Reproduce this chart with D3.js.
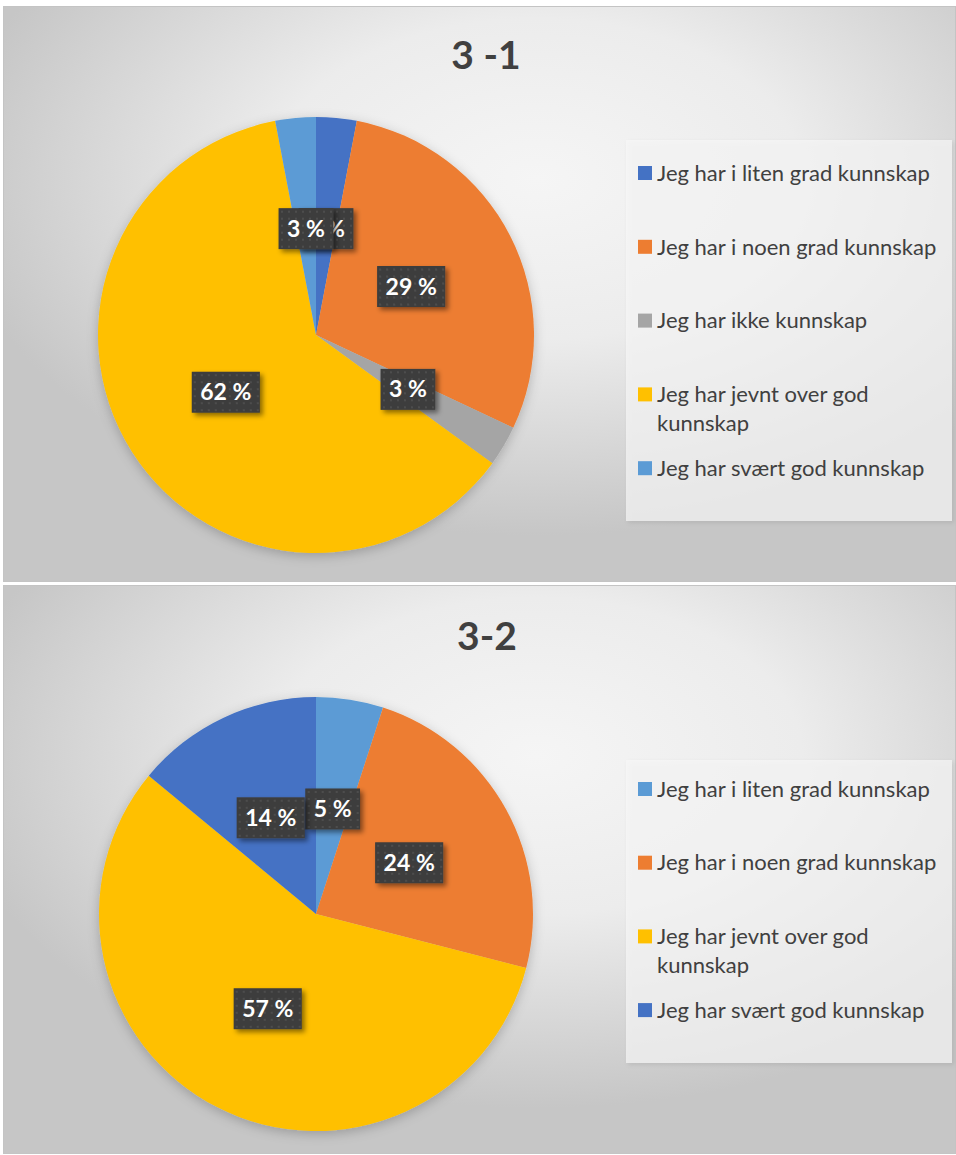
<!DOCTYPE html>
<html>
<head>
<meta charset="utf-8">
<script src="https://cdn.jsdelivr.net/npm/d3@7"></script>
<style>
  html, body { margin: 0; padding: 0; background: #ffffff; }
  svg { display: block; }
</style>
</head>
<body>
<svg id="chart" width="956" height="1155"></svg>
<script>
// Survey answers, question 3-1
const title1 = "3 -1";
const categories1 = [
  "Jeg har i liten grad kunnskap",
  "Jeg har i noen grad kunnskap",
  "Jeg har ikke kunnskap",
  "Jeg har jevnt over god kunnskap",
  "Jeg har svært god kunnskap"
];
const values1 = [3, 29, 3, 62, 3];
const colors1 = ["#4472C4", "#ED7D31", "#A5A5A5", "#FFC000", "#5B9BD5"];

// Survey answers, question 3-2
const title2 = "3-2";
const categories2 = [
  "Jeg har i liten grad kunnskap",
  "Jeg har i noen grad kunnskap",
  "Jeg har jevnt over god kunnskap",
  "Jeg har svært god kunnskap"
];
const values2 = [5, 24, 57, 14];
const colors2 = ["#5B9BD5", "#ED7D31", "#FFC000", "#4472C4"];

const svg = d3.select("#chart");
const defs = svg.append("defs");

// panel background: soft radial light
const bg = defs.append("radialGradient").attr("id", "panelBg")
  .attr("cx", "0.56").attr("cy", "0.3").attr("r", "0.62");
bg.append("stop").attr("offset", "0").attr("stop-color", "#f5f5f5");
bg.append("stop").attr("offset", "0.45").attr("stop-color", "#ececec");
bg.append("stop").attr("offset", "1").attr("stop-color", "#c6c6c6");

// dotted dark fill for data labels
const pat = defs.append("pattern").attr("id", "dots")
  .attr("patternUnits", "userSpaceOnUse").attr("width", 7).attr("height", 7);
pat.append("rect").attr("width", 7).attr("height", 7).attr("fill", "#3d3d3d");
pat.append("rect").attr("x", 3).attr("y", 3).attr("width", 2).attr("height", 2).attr("fill", "#4e4e4e");

const lblShadow = defs.append("filter").attr("id", "lblShadow")
  .attr("x", "-30%").attr("y", "-30%").attr("width", "160%").attr("height", "160%");
lblShadow.append("feDropShadow").attr("dx", 3).attr("dy", 3).attr("stdDeviation", 2.5)
  .attr("flood-color", "#000").attr("flood-opacity", 0.45);

const pieShadow = defs.append("filter").attr("id", "pieShadow")
  .attr("x", "-20%").attr("y", "-20%").attr("width", "140%").attr("height", "140%");
pieShadow.append("feDropShadow").attr("dx", 0).attr("dy", 3).attr("stdDeviation", 6)
  .attr("flood-color", "#000").attr("flood-opacity", 0.22);

const legShadow = defs.append("filter").attr("id", "legShadow")
  .attr("x", "-10%").attr("y", "-10%").attr("width", "120%").attr("height", "120%");
legShadow.append("feDropShadow").attr("dx", 2).attr("dy", 2).attr("stdDeviation", 2)
  .attr("flood-color", "#000").attr("flood-opacity", 0.12);

const FONT = "Lato, 'Open Sans', sans-serif";

function drawPanel(cfg) {
  const g = svg.append("g");

  g.append("rect")
    .attr("x", cfg.x).attr("y", cfg.y).attr("width", cfg.w).attr("height", cfg.h)
    .attr("fill", "url(#panelBg)")
    .attr("stroke", "#c4c4c4").attr("stroke-width", 1);

  g.append("text")
    .attr("x", cfg.titleX).attr("y", cfg.titleY)
    .attr("text-anchor", "middle")
    .attr("font-family", FONT).attr("font-weight", 700)
    .attr("font-size", 39).attr("fill", "#404040")
    .text(cfg.title);

  const pie = d3.pie().sort(null).value(d => d.value);
  const arcs = pie(cfg.categories.map((c, i) => ({ name: c, value: cfg.values[i], color: cfg.colors[i] })));
  const arc = d3.arc().innerRadius(0).outerRadius(cfg.r);
  const labelArc = d3.arc().innerRadius(cfg.r * 0.49).outerRadius(cfg.r * 0.49);

  const pg = g.append("g").attr("transform", `translate(${cfg.cx},${cfg.cy})`);
  pg.append("g").attr("filter", "url(#pieShadow)")
    .selectAll("path").data(arcs).join("path")
    .attr("d", arc).attr("fill", d => d.data.color);

  // data labels, drawn in series order so later ones sit on top
  arcs.forEach(d => {
    const [lx, ly] = labelArc.centroid(d);
    const lg = pg.append("g").attr("transform", `translate(${lx},${ly})`);
    const box = lg.append("rect").attr("fill", "url(#dots)").attr("filter", "url(#lblShadow)");
    const t = lg.append("text")
      .attr("text-anchor", "middle").attr("dy", "0.35em")
      .attr("font-family", FONT).attr("font-weight", 700)
      .attr("font-size", 23).attr("fill", "#ffffff")
      .text(`${d.data.value} %`);
    const tw = t.node().getComputedTextLength();
    const bw = tw + 17, bh = 41;
    box.attr("x", -bw / 2).attr("y", -bh / 2).attr("width", bw).attr("height", bh);
  });

  // legend
  const lgd = g.append("g");
  lgd.append("rect")
    .attr("x", cfg.legX).attr("y", cfg.legY).attr("width", cfg.legW).attr("height", cfg.legH)
    .attr("fill", "#f7f7f7").attr("fill-opacity", 0.7)
    .attr("filter", "url(#legShadow)");

  const maxW = 292;
  arcs.forEach((d, i) => {
    const y = cfg.legFirst + i * cfg.legStep;
    lgd.append("rect")
      .attr("x", 638).attr("y", y - 7).attr("width", 14).attr("height", 14)
      .attr("fill", d.data.color);
    const t = lgd.append("text")
      .attr("font-family", FONT).attr("font-size", 22).attr("fill", "#404040");
    const words = d.data.name.split(" ");
    let line = [], lineNo = 0;
    let ts = t.append("tspan").attr("x", 657).attr("y", y).attr("dy", "0.35em");
    words.forEach(w => {
      line.push(w);
      ts.text(line.join(" "));
      if (ts.node().getComputedTextLength() > maxW && line.length > 1) {
        line.pop();
        ts.text(line.join(" "));
        line = [w];
        lineNo += 1;
        ts = t.append("tspan").attr("x", 657).attr("y", y + lineNo * 29).attr("dy", "0.35em").text(w);
      }
    });
  });
}

drawPanel({
  x: 3.5, y: 6.5, w: 952, h: 575,
  title: title1, titleX: 486, titleY: 69,
  categories: categories1, values: values1, colors: colors1,
  cx: 316, cy: 335, r: 218,
  legX: 626, legY: 140, legW: 326, legH: 381,
  legFirst: 173, legStep: 73.8
});

drawPanel({
  x: 3.5, y: 585.5, w: 952, h: 568,
  title: title2, titleX: 487, titleY: 650,
  categories: categories2, values: values2, colors: colors2,
  cx: 316, cy: 914, r: 217,
  legX: 626, legY: 760, legW: 326, legH: 303,
  legFirst: 789, legStep: 73.7
});
</script>
</body>
</html>
